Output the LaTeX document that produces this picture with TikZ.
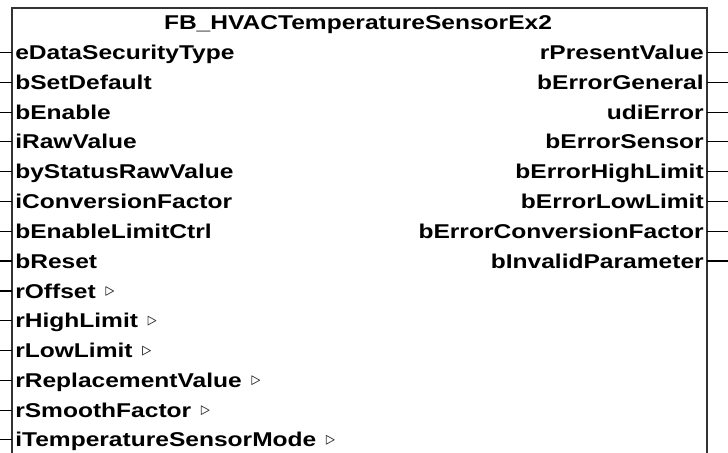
\documentclass[tikz,border=0pt]{standalone}
\usepackage{fontspec}
\newfontfamily\fbfont{Liberation Sans}[FakeStretch=1.23]

\tikzset{
  pinname/.style={inner sep=0pt, text height=10pt, text depth=0pt},
  inname/.style={pinname, anchor=west},
  outname/.style={pinname, anchor=east},
  pinline/.style={line width=0.75pt},
  structmark/.style={draw=black!75, fill=white, line width=0.55pt, line join=round},
}

\begin{document}
\begin{tikzpicture}[font=\fontsize{14.2}{17}\selectfont\fbfont\bfseries]

\useasboundingbox (0,0) rectangle (18.2,11.325);

\coordinate (pageW) at (0,0);
\coordinate (pageE) at (18.2,0);
\coordinate (boxSW) at (0.3,0);
\coordinate (boxNW) at (0.3,11.125);
\coordinate (boxNE) at (17.675,11.125);
\coordinate (boxSE) at (17.675,0);

% block outline, open at the bottom
\draw[line width=0.8pt, black!80] (boxSW) -- (boxNW) -- (boxNE) -- (boxSE);

\node[inner sep=0pt, text height=10pt, text depth=0pt] (title) at (8.95,10.77) {FB\_HVACTemperatureSensorEx2};

% inputs
\node[inname] (eDataSecurityType) at (0.375,10.01) {eDataSecurityType};
\node[inname] (bSetDefault) at (0.375,9.27) {bSetDefault};
\node[inname] (bEnable) at (0.375,8.52) {bEnable};
\node[inname] (iRawValue) at (0.375,7.78) {iRawValue};
\node[inname] (byStatusRawValue) at (0.375,7.03) {byStatusRawValue};
\node[inname] (iConversionFactor) at (0.375,6.29) {iConversionFactor};
\node[inname] (bEnableLimitCtrl) at (0.375,5.54) {bEnableLimitCtrl};
\node[inname] (bReset) at (0.375,4.80) {bReset};
\node[inname] (rOffset) at (0.375,4.05) {rOffset};
\node[inname] (rHighLimit) at (0.375,3.31) {rHighLimit};
\node[inname] (rLowLimit) at (0.375,2.56) {rLowLimit};
\node[inname] (rReplacementValue) at (0.375,1.82) {rReplacementValue};
\node[inname] (rSmoothFactor) at (0.375,1.07) {rSmoothFactor};
\node[inname] (iTemperatureSensorMode) at (0.375,0.33) {iTemperatureSensorMode};

\draw[pinline] (eDataSecurityType.west -| boxNW) -- (eDataSecurityType.west -| pageW);
\draw[pinline] (bSetDefault.west -| boxNW) -- (bSetDefault.west -| pageW);
\draw[pinline] (bEnable.west -| boxNW) -- (bEnable.west -| pageW);
\draw[pinline] (iRawValue.west -| boxNW) -- (iRawValue.west -| pageW);
\draw[pinline] (byStatusRawValue.west -| boxNW) -- (byStatusRawValue.west -| pageW);
\draw[pinline] (iConversionFactor.west -| boxNW) -- (iConversionFactor.west -| pageW);
\draw[pinline] (bEnableLimitCtrl.west -| boxNW) -- (bEnableLimitCtrl.west -| pageW);
\draw[pinline] (bReset.west -| boxNW) -- (bReset.west -| pageW);
\draw[pinline] (rOffset.west -| boxNW) -- (rOffset.west -| pageW);
\draw[pinline] (rHighLimit.west -| boxNW) -- (rHighLimit.west -| pageW);
\draw[pinline] (rLowLimit.west -| boxNW) -- (rLowLimit.west -| pageW);
\draw[pinline] (rReplacementValue.west -| boxNW) -- (rReplacementValue.west -| pageW);
\draw[pinline] (rSmoothFactor.west -| boxNW) -- (rSmoothFactor.west -| pageW);
\draw[pinline] (iTemperatureSensorMode.west -| boxNW) -- (iTemperatureSensorMode.west -| pageW);

% small triangles behind the structured inputs
\draw[structmark] ([xshift=0.24cm]rOffset.east) ++(0,0.11) -- ++(0.2,-0.11) -- ++(-0.2,-0.11) -- cycle;
\draw[structmark] ([xshift=0.24cm]rHighLimit.east) ++(0,0.11) -- ++(0.2,-0.11) -- ++(-0.2,-0.11) -- cycle;
\draw[structmark] ([xshift=0.24cm]rLowLimit.east) ++(0,0.11) -- ++(0.2,-0.11) -- ++(-0.2,-0.11) -- cycle;
\draw[structmark] ([xshift=0.24cm]rReplacementValue.east) ++(0,0.11) -- ++(0.2,-0.11) -- ++(-0.2,-0.11) -- cycle;
\draw[structmark] ([xshift=0.24cm]rSmoothFactor.east) ++(0,0.11) -- ++(0.2,-0.11) -- ++(-0.2,-0.11) -- cycle;
\draw[structmark] ([xshift=0.24cm]iTemperatureSensorMode.east) ++(0,0.11) -- ++(0.2,-0.11) -- ++(-0.2,-0.11) -- cycle;

% outputs
\node[outname] (rPresentValue) at (17.6,10.01) {rPresentValue};
\node[outname] (bErrorGeneral) at (17.6,9.27) {bErrorGeneral};
\node[outname] (udiError) at (17.6,8.52) {udiError};
\node[outname] (bErrorSensor) at (17.6,7.78) {bErrorSensor};
\node[outname] (bErrorHighLimit) at (17.6,7.03) {bErrorHighLimit};
\node[outname] (bErrorLowLimit) at (17.6,6.29) {bErrorLowLimit};
\node[outname] (bErrorConversionFactor) at (17.6,5.54) {bErrorConversionFactor};
\node[outname] (bInvalidParameter) at (17.6,4.80) {bInvalidParameter};

\draw[pinline] (rPresentValue.east -| boxNE) -- (rPresentValue.east -| pageE);
\draw[pinline] (bErrorGeneral.east -| boxNE) -- (bErrorGeneral.east -| pageE);
\draw[pinline] (udiError.east -| boxNE) -- (udiError.east -| pageE);
\draw[pinline] (bErrorSensor.east -| boxNE) -- (bErrorSensor.east -| pageE);
\draw[pinline] (bErrorHighLimit.east -| boxNE) -- (bErrorHighLimit.east -| pageE);
\draw[pinline] (bErrorLowLimit.east -| boxNE) -- (bErrorLowLimit.east -| pageE);
\draw[pinline] (bErrorConversionFactor.east -| boxNE) -- (bErrorConversionFactor.east -| pageE);
\draw[pinline] (bInvalidParameter.east -| boxNE) -- (bInvalidParameter.east -| pageE);

\end{tikzpicture}
\end{document}
